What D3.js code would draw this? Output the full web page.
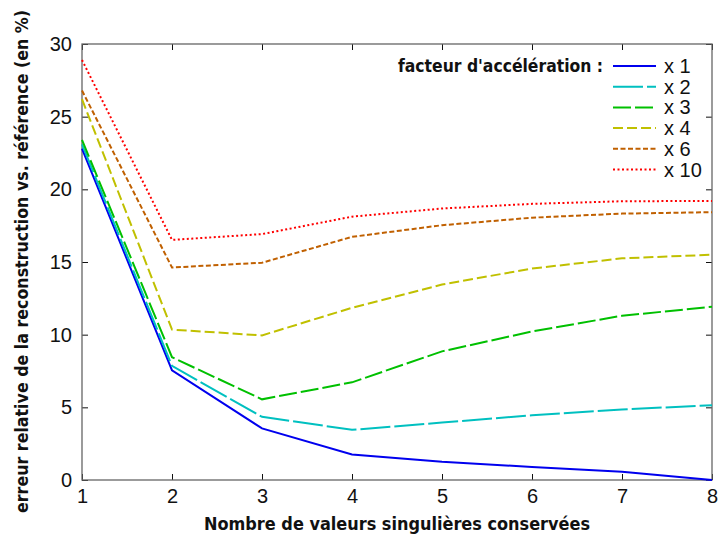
<!DOCTYPE html>
<html><head><meta charset="utf-8">
<script src="https://cdn.jsdelivr.net/npm/d3@7"></script>
<style>body{margin:0;background:#fff}</style>
</head><body>
<svg id="c" width="720" height="540"></svg>
<script>
const xValues = [1, 2, 3, 4, 5, 6, 7, 8];
const seriesNames = ["x 1", "x 2", "x 3", "x 4", "x 6", "x 10"];
const s1 = [22.8, 7.55, 3.55, 1.75, 1.25, 0.9, 0.56, 0.0];
const s2 = [23.1, 7.85, 4.35, 3.45, 3.95, 4.45, 4.85, 5.15];
const s3 = [23.4, 8.45, 5.55, 6.72, 8.85, 10.22, 11.3, 11.92];
const s4 = [26.2, 10.35, 9.95, 11.85, 13.45, 14.55, 15.25, 15.5];
const s6 = [26.8, 14.62, 14.95, 16.73, 17.53, 18.05, 18.33, 18.43];
const s10 = [28.9, 16.52, 16.92, 18.12, 18.68, 19.0, 19.18, 19.2];
const yTicks = [0, 5, 10, 15, 20, 25, 30];
const colors = ["#0000ee", "#00c0c0", "#00c000", "#c0c000", "#c06000", "#ff0000"];
const dashes = ["none", "30,4", "18,4", "10,4", "5,2.5", "2,2.5"];
const legendTitle = "facteur d'accélération :";
const xTitle = "Nombre de valeurs singulières conservées";
const yTitle = "erreur relative de la reconstruction vs. référence (en %)";

const series = [s1, s2, s3, s4, s6, s10];
const svg = d3.select("#c");
const L = 82, R = 712, T = 44, B = 480;
const x = d3.scaleLinear().domain([1, 8]).range([L, R]);
const y = d3.scaleLinear().domain([0, 30]).range([B, T]);
const tickFont = "'Liberation Sans',Arial,sans-serif";
const titleFont = "'DejaVu Sans Condensed','DejaVu Sans',sans-serif";

// axes
const gx = svg.append("g").attr("transform", `translate(0,${B})`)
  .call(d3.axisBottom(x).tickValues(xValues).tickFormat(d3.format("d")).tickSizeInner(-6).tickSizeOuter(0).tickPadding(9));
const gxt = svg.append("g").attr("transform", `translate(0,${T})`)
  .call(d3.axisTop(x).tickValues(xValues).tickFormat("").tickSizeInner(-6).tickSizeOuter(0));
const gy = svg.append("g").attr("transform", `translate(${L},0)`)
  .call(d3.axisLeft(y).tickValues(yTicks).tickFormat(d3.format("d")).tickSizeInner(-6).tickSizeOuter(0).tickPadding(10));
const gyr = svg.append("g").attr("transform", `translate(${R},0)`)
  .call(d3.axisRight(y).tickValues(yTicks).tickFormat("").tickSizeInner(-6).tickSizeOuter(0));
[gx, gxt, gy, gyr].forEach(g => {
  g.select(".domain").remove();
  g.selectAll("line").attr("stroke", "#111").attr("stroke-width", 1);
  g.selectAll("text").attr("font-family", tickFont).attr("font-size", 20).attr("fill", "#111");
});
svg.append("rect").attr("x", L).attr("y", T).attr("width", R - L).attr("height", B - T)
  .attr("fill", "none").attr("stroke", "#666").attr("stroke-width", 1.3);

// lines
const line = d3.line().x((d, i) => x(xValues[i])).y(d => y(d));
series.forEach((s, k) => {
  svg.append("path").datum(s).attr("d", line).attr("fill", "none")
    .attr("stroke", colors[k]).attr("stroke-width", 2)
    .attr("stroke-dasharray", dashes[k]);
});

// legend
const lx0 = 613, lx1 = 656, ly0 = 66, ldy = 20.7;
svg.append("text").attr("x", 398).attr("y", ly0 + 6)
  .attr("textLength", 205).attr("lengthAdjust", "spacingAndGlyphs")
  .attr("font-family", titleFont).attr("font-weight", "bold").attr("font-size", 17)
  .attr("fill", "#111").text(legendTitle);
seriesNames.forEach((n, k) => {
  const yy = ly0 + k * ldy;
  svg.append("line").attr("x1", lx0).attr("x2", lx1).attr("y1", yy).attr("y2", yy)
    .attr("stroke", colors[k]).attr("stroke-width", 2).attr("stroke-dasharray", dashes[k]);
  svg.append("text").attr("x", 664).attr("y", yy + 7).attr("font-family", tickFont)
    .attr("font-size", 20).attr("fill", "#111").text(n);
});

// titles
svg.append("text").attr("x", 204).attr("y", 530)
  .attr("textLength", 386).attr("lengthAdjust", "spacingAndGlyphs")
  .attr("font-family", titleFont).attr("font-weight", "bold").attr("font-size", 18)
  .attr("fill", "#111").text(xTitle);
svg.append("text").attr("transform", "translate(28,513) rotate(-90)")
  .attr("textLength", 503).attr("lengthAdjust", "spacingAndGlyphs")
  .attr("font-family", titleFont).attr("font-weight", "bold").attr("font-size", 17.5)
  .attr("fill", "#111").text(yTitle);
</script>
</body></html>
